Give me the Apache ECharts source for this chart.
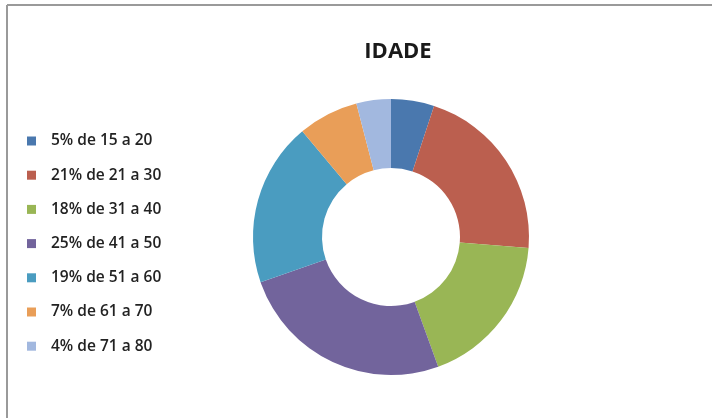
<!DOCTYPE html>
<html>
<head>
<meta charset="utf-8">
<script src="https://cdn.jsdelivr.net/npm/echarts@6/dist/echarts.min.js"></script>
<style>
  html, body { margin: 0; padding: 0; background: #fff; }
  #chart { width: 712px; height: 418px; }
</style>
</head>
<body>
<div id="chart"></div>
<script>
// dados do gráfico
var faixas = ["5% de 15 a 20", "21% de 21 a 30", "18% de 31 a 40", "25% de 41 a 50", "19% de 51 a 60", "7% de 61 a 70", "4% de 71 a 80"];
var valores = [5, 21, 18, 25, 19, 7, 4];
var cores = ["#4a78ae", "#bb5f4f", "#99b655", "#72649c", "#4a9cc0", "#e99e58", "#a2b8df"];

var chart = echarts.init(document.getElementById("chart"));

chart.setOption({
  backgroundColor: "#fff",
  color: cores,
  title: {
    text: "IDADE",
    left: 398,
    textAlign: "center",
    top: 41,
    padding: 0,
    textStyle: {
      fontFamily: "Open Sans",
      fontSize: 22,
      fontWeight: "bold",
      color: "#1a1a1a"
    }
  },
  legend: {
    orient: "vertical",
    left: 27,
    top: 133,
    padding: 0,
    itemWidth: 9,
    itemHeight: 9,
    itemGap: 18.2,
    itemTextGap: 5,
    icon: "rect",
    selectedMode: false,
    textStyle: {
      fontFamily: "Open Sans",
      fontSize: 15.5,
      fontWeight: 600,
      lineHeight: 15,
      padding: [0, 0, 0, 10],
      color: "#222"
    },
    data: faixas
  },
  // moldura da imagem (linha esquerda e superior)
  graphic: [
    { type: "line", shape: { x1: 7, y1: 5, x2: 7, y2: 418 }, style: { stroke: "#9a9a9a", lineWidth: 2 } },
    { type: "line", shape: { x1: 7, y1: 5, x2: 712, y2: 5 }, style: { stroke: "#9a9a9a", lineWidth: 2 } }
  ],
  series: [
    {
      name: "IDADE",
      type: "pie",
      center: [391, 237],
      radius: [69, 138],
      startAngle: 90,
      clockwise: true,
      silent: true,
      label: { show: false },
      labelLine: { show: false },
      itemStyle: { borderWidth: 0 },
      data: faixas.map(function (f, i) {
        return { name: f, value: valores[i] };
      })
    }
  ]
});
</script>
</body>
</html>
